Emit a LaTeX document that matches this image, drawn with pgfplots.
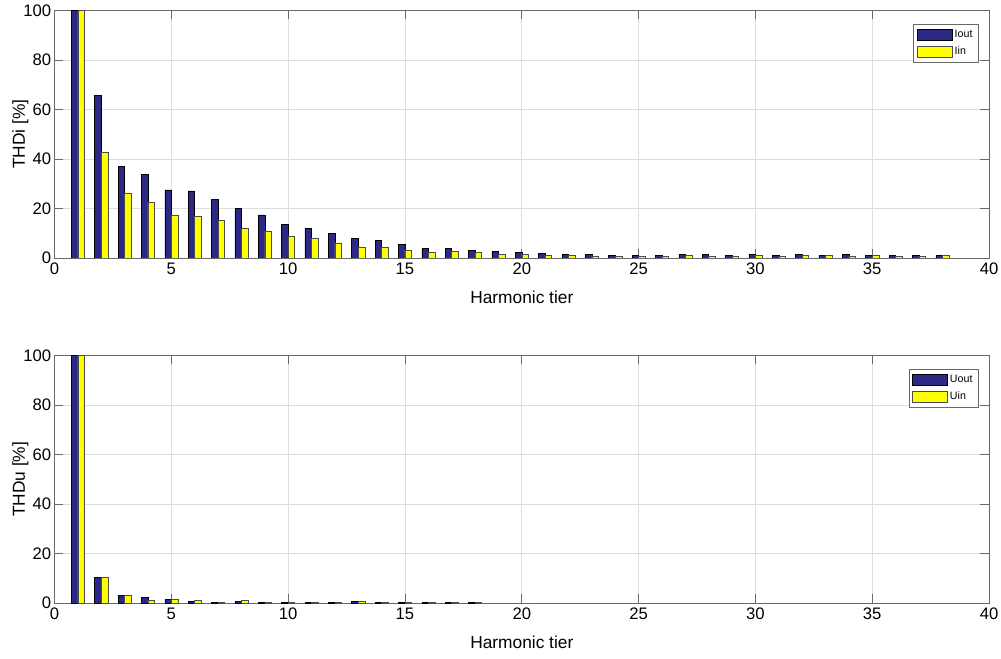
\documentclass[border=0pt]{standalone}
\usepackage{fontspec}
\setmainfont{Liberation Sans}
\usepackage{pgfplots}
\pgfplotsset{compat=1.18}
\definecolor{barblue}{RGB}{43,40,135}
\definecolor{baryellow}{RGB}{255,255,0}
\definecolor{axgray}{RGB}{105,105,105}
\begin{document}
\begin{tikzpicture}[x=1pt,y=1pt]
\useasboundingbox (0,0) rectangle (750.75,493.5);
\pgfplotsset{
 myaxis/.style={
  scale only axis, width=700.9pt, height=185.5pt,
  xmin=0,xmax=40,ymin=0,ymax=100,
  xtick={0,5,...,40}, ytick={0,20,...,100},
  grid=major, major grid style={black!13, line width=0.5pt},
  axis line style={axgray, line width=0.6pt},
  tick style={axgray, line width=0.6pt},
  major tick length=6.5pt,
  tick align=inside,
  ticklabel style={font=\fontsize{12.5}{14}\selectfont},
  yticklabel style={xshift=1pt},
  /pgf/number format/assume math mode=true,
  xlabel style={font=\fontsize{13}{15}\selectfont, at={(axis description cs:0.5,-0.157)}, anchor=center},
  ylabel style={font=\fontsize{13}{15}\selectfont, at={(axis description cs:-0.0364,0.5)}, anchor=center},
  xlabel={Harmonic tier},
  legend style={at={(0.989,0.947)}, anchor=north east, font=\fontsize{8}{9}\selectfont, draw=axgray, fill=white, row sep=1.5pt, inner sep=2.5pt},
  legend image code/.code={\draw[##1] (0pt,-4pt) rectangle (26pt,4pt);},
  legend cell align=left,
 },
 bluebar/.style={ybar, bar width=0.28, bar shift=-0.14, fill=barblue, draw=black, line width=0.4pt},
 yellowbar/.style={ybar, bar width=0.28, bar shift=0.14, fill=baryellow, draw=black!70, line width=0.4pt},
}
\begin{axis}[myaxis, at={(40.9pt,300pt)}, anchor=south west, ylabel={THDi [\%]}]
\addplot[bluebar] coordinates {
(1,100) (2,65.6) (3,36.9) (4,33.8) (5,27.5) (6,27.1) (7,23.6) (8,20.1) (9,17.4) (10,13.5)
(11,12.1) (12,10.0) (13,8.0) (14,7.0) (15,5.4) (16,3.8) (17,3.8) (18,3.1) (19,2.7) (20,2.3)
(21,1.8) (22,1.5) (23,1.5) (24,1.2) (25,1.1) (26,1.1) (27,1.6) (28,1.5) (29,1.1) (30,1.6)
(31,1.1) (32,1.6) (33,1.2) (34,1.6) (35,1.2) (36,1.2) (37,1.1) (38,1.1)};
\addplot[yellowbar] coordinates {
(1,100) (2,42.9) (3,26.0) (4,22.5) (5,17.4) (6,16.7) (7,15.4) (8,11.9) (9,10.8) (10,8.9)
(11,8.0) (12,6.1) (13,4.3) (14,4.3) (15,3.2) (16,2.3) (17,2.6) (18,2.3) (19,1.5) (20,1.6)
(21,1.1) (22,1.1) (23,0.9) (24,0.9) (25,0.8) (26,0.8) (27,1.1) (28,0.9) (29,0.8) (30,1.1)
(31,0.8) (32,1.1) (33,1.1) (34,0.9) (35,1.1) (36,0.9) (37,0.8) (38,1.1)};
\legend{Iout, Iin}
\end{axis}
\begin{axis}[myaxis, at={(40.9pt,41.25pt)}, anchor=south west, ylabel={THDu [\%]}]
\addplot[bluebar] coordinates {
(1,100) (2,10.5) (3,3.2) (4,2.3) (5,1.5) (6,0.7) (7,0.4) (8,0.7) (9,0.4) (10,0.3)
(11,0.1) (12,0.3) (13,0.7) (14,0.1) (15,0.3) (16,0.1) (17,0.1) (18,0.3)};
\addplot[yellowbar] coordinates {
(1,100) (2,10.3) (3,3.2) (4,1.3) (5,1.7) (6,1.3) (7,0.1) (8,1.3) (9,0.4) (10,0.3)
(11,0.1) (12,0.1) (13,0.6) (14,0.1) (15,0.2) (16,0.1) (17,0.1) (18,0.1)};
\legend{Uout, Uin}
\end{axis}
\end{tikzpicture}
\end{document}
